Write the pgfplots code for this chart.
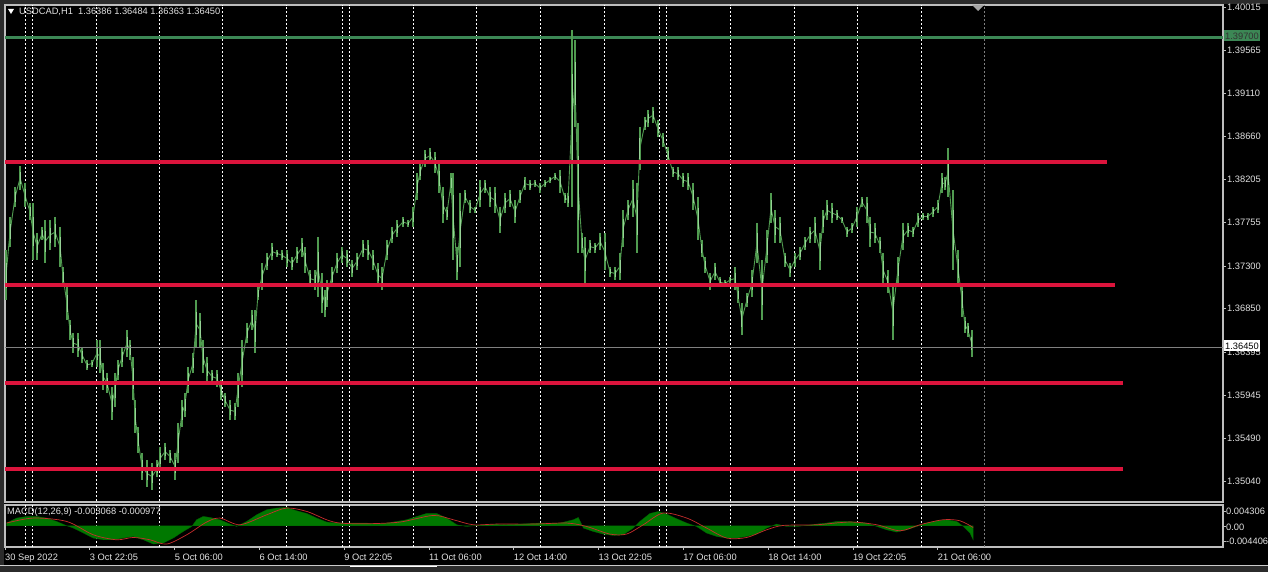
\documentclass[border=0pt]{standalone}
\usepackage{fontspec}
\setmainfont{Liberation Sans}
\usepackage{pgfplots}
\usepackage{pgfplotstable}
\pgfplotsset{compat=1.18}

\definecolor{frame}{RGB}{43,43,43}
\definecolor{axgrey}{RGB}{190,190,190}
\definecolor{txt}{RGB}{225,225,225}
\definecolor{candle}{RGB}{80,155,80}
\definecolor{candlelt}{RGB}{150,210,150}
\definecolor{level}{RGB}{220,20,60}
\definecolor{resist}{RGB}{60,135,85}
\definecolor{macdg}{RGB}{0,120,0}
\definecolor{sig}{RGB}{200,45,45}
\newcommand\mtf{\fontsize{9.3}{10}\selectfont}

% H1 candles, hours since 30 Sep 2022: high / low
\pgfplotstableread{
t h l
0.4 1.37467 1.36942
1.9 1.37814 1.37499
3.8 1.38129 1.37919
5.7 1.38349 1.38097
7.5 1.38171 1.37919
9.4 1.37961 1.37782
10.6 1.37961 1.37362
12.1 1.37646 1.37362
14.0 1.37709 1.37572
15.1 1.37782 1.37331
17.0 1.37782 1.37467
18.9 1.37814 1.37499
20.8 1.37709 1.37289
21.9 1.37289 1.37079
23.4 1.37079 1.36732
24.5 1.36732 1.36522
25.7 1.36596 1.36386
27.6 1.36596 1.36344
29.1 1.36449 1.36281
30.9 1.36312 1.36207
32.8 1.36312 1.36239
34.7 1.36522 1.36239
35.9 1.36522 1.36176
37.0 1.36281 1.35997
38.5 1.36176 1.35966
40.4 1.36029 1.35682
41.5 1.36176 1.35819
42.6 1.36312 1.36102
44.2 1.36449 1.36239
46.0 1.36627 1.36344
47.2 1.36522 1.36312
48.3 1.36344 1.35892
49.1 1.35892 1.35546
50.2 1.35609 1.35336
51.7 1.35336 1.35052
53.6 1.35262 1.34979
55.5 1.35231 1.34947
57.4 1.35262 1.35084
58.5 1.35399 1.35157
60.4 1.35441 1.35262
62.3 1.35367 1.35231
64.2 1.35336 1.35052
65.3 1.35651 1.35231
66.8 1.35892 1.35609
67.9 1.35966 1.35714
69.1 1.36239 1.35966
71.0 1.36386 1.36176
72.1 1.36942 1.36449
73.6 1.36806 1.36449
74.7 1.36522 1.36176
76.2 1.36344 1.36071
78.1 1.36207 1.36071
80.0 1.36207 1.36029
81.5 1.36102 1.35892
83.0 1.35966 1.35819
84.9 1.35892 1.35682
86.8 1.35861 1.35682
87.9 1.36176 1.35819
89.4 1.36522 1.36029
91.3 1.36701 1.36491
93.2 1.36837 1.36627
94.4 1.36837 1.36386
95.5 1.37079 1.36942
97.0 1.37331 1.37047
98.9 1.37436 1.37257
100.8 1.37541 1.37362
102.7 1.37467 1.37394
104.5 1.37467 1.37362
106.4 1.37467 1.37289
108.3 1.37394 1.37257
110.2 1.37499 1.37331
112.1 1.37593 1.37394
113.2 1.37499 1.37227
115.1 1.37257 1.37079
117.0 1.37257 1.37047
118.1 1.37604 1.36974
119.6 1.37227 1.36806
120.8 1.37047 1.36764
121.5 1.37152 1.36869
123.4 1.37289 1.37079
125.3 1.37436 1.37227
127.2 1.37499 1.37331
129.1 1.37467 1.37289
131.0 1.37362 1.37184
132.8 1.37436 1.37257
135.1 1.37572 1.37394
137.0 1.37572 1.37362
138.9 1.37467 1.37257
140.8 1.37331 1.37079
142.3 1.37289 1.37047
144.2 1.37572 1.37362
146.1 1.37709 1.37541
147.9 1.37782 1.37604
150.2 1.37814 1.37709
152.1 1.37782 1.37709
154.0 1.37919 1.37709
155.5 1.38276 1.37992
156.7 1.38380 1.38202
158.5 1.38517 1.38339
160.4 1.38538 1.38380
162.3 1.38496 1.38276
163.8 1.38380 1.38066
165.3 1.38129 1.37751
166.8 1.37919 1.37782
168.3 1.38276 1.38066
169.1 1.38276 1.37362
170.6 1.37499 1.37152
171.8 1.38066 1.37289
173.6 1.38097 1.37961
175.5 1.37992 1.37856
177.4 1.37919 1.37856
179.3 1.38202 1.37919
181.2 1.38202 1.38066
183.0 1.38129 1.37919
184.9 1.38129 1.37856
186.8 1.37919 1.37646
188.7 1.38066 1.37856
190.6 1.38097 1.37919
192.5 1.37992 1.37751
194.4 1.38097 1.37961
196.2 1.38234 1.38097
198.1 1.38202 1.38097
200.0 1.38202 1.38129
201.9 1.38171 1.38066
203.8 1.38202 1.38129
205.7 1.38234 1.38171
207.6 1.38276 1.38202
209.5 1.38307 1.38066
211.3 1.38066 1.37961
212.5 1.38066 1.37919
214.0 1.39777 1.37919
215.1 1.39672 1.38758
216.3 1.38800 1.37436
217.8 1.37646 1.37436
218.9 1.37604 1.37121
220.8 1.37572 1.37436
222.7 1.37541 1.37436
224.6 1.37646 1.37467
226.4 1.37646 1.37257
228.3 1.37289 1.37184
230.2 1.37289 1.37152
232.1 1.37436 1.37152
233.3 1.37887 1.37499
235.1 1.37992 1.37782
237.0 1.38202 1.37814
238.5 1.38171 1.37436
239.6 1.38758 1.38307
241.5 1.38863 1.38727
242.7 1.38937 1.38758
244.6 1.38968 1.38800
246.4 1.38832 1.38653
248.3 1.38695 1.38549
250.2 1.38549 1.38380
252.1 1.38339 1.38234
254.0 1.38339 1.38202
255.9 1.38276 1.38129
257.8 1.38276 1.38097
259.7 1.38171 1.37887
261.5 1.38024 1.37572
263.0 1.37572 1.37394
264.2 1.37394 1.37227
266.1 1.37227 1.37047
268.0 1.37331 1.37152
269.8 1.37184 1.37079
271.7 1.37152 1.37079
273.6 1.37184 1.37121
275.5 1.37289 1.37047
276.6 1.37079 1.36911
278.1 1.36911 1.36575
280.0 1.37016 1.36869
281.9 1.37257 1.36974
283.8 1.37751 1.37331
285.7 1.37362 1.36732
287.6 1.37677 1.37331
289.1 1.38066 1.37751
290.6 1.37887 1.37541
292.5 1.37814 1.37541
294.4 1.37436 1.37289
296.3 1.37331 1.37184
298.1 1.37436 1.37289
300.0 1.37499 1.37362
301.9 1.37604 1.37467
303.8 1.37709 1.37541
305.7 1.37814 1.37541
307.6 1.37646 1.37257
308.7 1.37887 1.37646
310.2 1.37992 1.37782
312.1 1.37961 1.37751
314.0 1.37887 1.37782
315.9 1.37814 1.37751
317.8 1.37709 1.37604
319.7 1.37751 1.37646
321.5 1.37919 1.37709
323.4 1.38024 1.37919
325.3 1.38024 1.37751
326.5 1.37814 1.37499
328.3 1.37751 1.37541
330.2 1.37604 1.37436
331.4 1.37436 1.37079
333.2 1.37257 1.37016
335.1 1.37121 1.36522
337.0 1.37394 1.37121
338.9 1.37751 1.37467
340.8 1.37751 1.37604
342.7 1.37709 1.37604
344.6 1.37856 1.37709
346.5 1.37856 1.37782
348.3 1.37856 1.37782
350.2 1.37919 1.37814
352.1 1.37992 1.37856
353.6 1.38276 1.38066
354.8 1.38234 1.38097
355.9 1.38538 1.38024
357.8 1.38097 1.37257
359.7 1.37467 1.37079
361.2 1.37121 1.36764
362.3 1.36764 1.36596
363.4 1.36701 1.36554
364.9 1.36627 1.36344
}\candles

% MACD(12,26,9) histogram and signal
\pgfplotstableread{
t v
0.6 0.00059
4.4 0.00168
8.2 0.00203
12.0 0.00203
15.7 0.00168
19.5 0.00094
23.3 0
25.8 -0.00050
29.6 -0.00159
33.3 -0.00268
37.1 -0.00305
40.9 -0.00305
44.7 -0.00268
48.4 -0.00233
52.2 -0.00305
56.0 -0.00399
59.7 -0.00377
63.5 -0.00268
67.3 -0.00124
70.5 -0.00015
72.3 0.00131
74.8 0.00203
77.4 0.00181
81.1 0.00131
84.9 0.00037
87.4 -0.00015
91.2 0.00094
95.0 0.00240
98.8 0.00349
102.5 0.00386
106.3 0.00399
110.1 0.00327
113.9 0.00268
117.6 0.00168
121.4 0.00081
125.2 0.00059
129.0 0.00059
132.7 0.00059
136.5 0.00059
140.3 0.00037
144.1 0.00059
147.8 0.00094
151.6 0.00131
155.4 0.00203
159.1 0.00268
162.9 0.00268
166.7 0.00168
170.5 0.00022
174.2 -0.00015
178.0 0.00007
181.8 0.00022
185.6 0.00037
186.8 0.00022
194.4 0.00037
201.9 0.00059
209.5 0.00059
214.5 0.00131
216.4 0.00181
218.3 -0.00050
222.0 -0.00124
225.8 -0.00181
229.6 -0.00211
233.3 -0.00196
237.1 -0.00050
239.6 0.00094
243.4 0.00268
246.6 0.00312
249.7 0.00255
253.5 0.00153
257.3 0.00059
261.0 -0.00015
264.8 -0.00159
268.6 -0.00233
272.4 -0.00268
276.1 -0.00268
279.9 -0.00233
283.7 -0.00181
287.5 -0.00050
291.2 0.00037
295.0 -0.00015
298.8 -0.00015
302.6 0.00007
306.3 0.00037
310.1 0.00059
313.9 0.00094
317.7 0.00094
321.4 0.00081
325.2 0.00059
329.0 -0.00015
332.7 -0.00087
336.5 -0.00137
340.3 -0.00087
344.1 -0.00015
347.8 0.00059
351.6 0.00109
355.4 0.00131
359.2 0.00094
361.7 -0.00015
364.2 -0.00159
365.4 -0.00305
}\macdhist

\pgfplotstableread{
t v
0.6 0.00059
10.7 0.00168
23.3 0.00094
33.3 -0.00196
42.1 -0.00305
48.4 -0.00255
54.7 -0.00305
61.0 -0.00399
68.6 -0.00196
76.1 0.00081
81.1 0.00168
88.7 0.00022
98.8 0.00240
106.3 0.00386
113.9 0.00312
121.4 0.00131
126.4 0.00059
136.5 0.00044
149.1 0.00081
161.6 0.00225
169.2 0.00131
176.7 0.00022
185.6 0.00037
199.4 0.00037
212.0 0.00059
219.5 -0.00015
228.3 -0.00181
234.6 -0.00181
240.9 0.00022
248.4 0.00277
257.3 0.00168
264.8 -0.00050
272.4 -0.00268
279.9 -0.00255
287.5 -0.00087
293.7 0.00007
306.3 0.00022
318.9 0.00081
329.0 0.00022
337.8 -0.00109
345.3 0.00022
354.1 0.00131
360.4 0.00109
365.4 -0.00037
}\macdsig

\begin{document}
\begin{tikzpicture}[x=1pt,y=1pt]
\useasboundingbox (0,0) rectangle (1268,572);
\fill[frame] (0,0) rectangle (1268,572);
\fill[black] (4,7) rectangle (1268,568);
\draw[axgrey!80, line width=1pt] (0,6.5) -- (1268,6.5);
\draw[white, line width=1.5pt] (350,5.5) -- (437,5.5);

% main price window
\begin{axis}[
  at={(5pt,70pt)}, anchor=south west,
  scale only axis, width=1218pt, height=497pt,
  xmin=0, xmax=459.7, ymin=1.34821, ymax=1.40040,
  axis background/.style={fill=black},
  axis line style={axgrey, line width=1.2pt},
  xtick=\empty,
  ytick={1.35040,1.35490,1.35945,1.36395,1.36850,1.37300,1.37755,1.38205,1.38660,1.39110,1.39565,1.40015},
  ytick pos=right, yticklabel pos=right,
  tick align=outside, major tick length=3pt,
  tick style={axgrey, line width=0.6pt},
  scaled y ticks=false,
  yticklabel style={/pgf/number format/.cd, fixed, fixed zerofill, precision=5,
    assume math mode=true, /tikz/.cd, font=\mtf, text=txt, anchor=west, inner sep=1pt},
]
\pgfplotsinvokeforeach{7.5,10.2,34.3,58.1,81.9,106.0,127.2,129.8,154.0,177.8,201.9,226.1,246.8,249.5,273.6,297.8,321.5,345.7}{
  \draw[white, line width=0.6pt, dash pattern=on 2pt off 2pt] (axis cs:#1,1.3483) -- (axis cs:#1,1.4004);}
\draw[gray, line width=0.6pt, dash pattern=on 2pt off 2pt] (axis cs:369.5,1.3483) -- (axis cs:369.5,1.4004);
\addplot[resist, line width=2.5pt] coordinates {(0,1.3970) (459.7,1.3970)};
% bar ranges, a thin path through their middles, and light bodies
\addplot[candle, line width=0.9pt, mark=none]
  table[x=t, y expr=(\thisrow{h}+\thisrow{l})/2] {\candles};
\addplot[candle, line width=1.9pt, mark=none, quiver={u=0, v=\thisrow{l}-\thisrow{h}}]
  table[x=t, y=h] {\candles};
\addplot[candlelt, line width=0.7pt, mark=none, quiver={u=0, v=0.5*(\thisrow{l}-\thisrow{h})}]
  table[x=t, y expr=0.75*\thisrow{h}+0.25*\thisrow{l}] {\candles};
\addplot[level, line width=4pt] coordinates {(0,1.3839) (415.9,1.3839)};
\addplot[level, line width=4pt] coordinates {(0,1.3710) (418.9,1.3710)};
\addplot[level, line width=4pt] coordinates {(0,1.3607) (421.9,1.3607)};
\addplot[level, line width=4pt] coordinates {(0,1.3517) (421.9,1.3517)};
\addplot[gray, line width=0.5pt] coordinates {(0,1.3645) (459.7,1.3645)};
\end{axis}

% MACD window
\begin{axis}[
  at={(5pt,25pt)}, anchor=south west,
  scale only axis, width=1218pt, height=42pt,
  xmin=0, xmax=459.7, ymin=-0.004624, ymax=0.004524,
  axis background/.style={fill=black},
  axis line style={axgrey, line width=1.2pt},
  ytick=\empty,
  xtick={0,32,64,96,128,160,192,224,256,288,320,352},
  xticklabels={30 Sep 2022,3 Oct 22:05,5 Oct 06:00,6 Oct 14:00,9 Oct 22:05,11 Oct 06:00,12 Oct 14:00,13 Oct 22:05,17 Oct 06:00,18 Oct 14:00,19 Oct 22:05,21 Oct 06:00},
  xtick pos=bottom, tick align=outside, major tick length=3pt,
  tick style={axgrey, line width=0.6pt},
  xticklabel style={font=\mtf, text=txt, anchor=north west, inner sep=0pt, yshift=-4pt},
]
\pgfplotsinvokeforeach{7.5,10.2,34.3,58.1,81.9,106.0,127.2,129.8,154.0,177.8,201.9,226.1,246.8,249.5,273.6,297.8,321.5,345.7}{
  \draw[white, line width=0.6pt, dash pattern=on 2pt off 2pt] (axis cs:#1,-0.0047) -- (axis cs:#1,0.0046);}
\draw[gray, line width=0.6pt, dash pattern=on 2pt off 2pt] (axis cs:369.5,-0.0047) -- (axis cs:369.5,0.0046);
\addplot[fill=macdg, draw=macdg!80!black, line width=0.3pt] table[x=t, y=v] {\macdhist} \closedcycle;
\addplot[sig, line width=0.7pt, smooth] table[x=t, y=v] {\macdsig};
\end{axis}

% chart texts and price markers
\fill[white] (8,563) -- (14,563) -- (11,558) -- cycle;
\node[anchor=west, font=\mtf, text=txt, inner sep=0pt] at (19,560) {USDCAD,H1\ \ 1.36386 1.36484 1.36363 1.36450};
\node[anchor=west, font=\mtf, text=txt, inner sep=0pt] at (7,60) {MACD(12,26,9) -0.003068 -0.000977};
\fill[gray!70] (972,567) -- (984,567) -- (978,561) -- cycle;
\node[anchor=west, font=\mtf, fill=resist, text=black!80, inner sep=1pt, minimum height=11pt] at (1224,536) {1.39700};
\node[anchor=west, font=\mtf, fill=white, text=black, inner sep=1pt, minimum height=11pt] at (1224,226) {1.36450};
\draw[axgrey, line width=0.6pt] (1223,61) -- (1226,61) (1223,46) -- (1226,46) (1223,31) -- (1226,31);
\node[anchor=west, font=\mtf, text=txt, inner sep=1pt] at (1225,61) {0.004306};
\node[anchor=west, font=\mtf, text=txt, inner sep=1pt] at (1225,45) {0.00};
\node[anchor=west, font=\mtf, text=txt, inner sep=1pt] at (1225,31) {-0.004406};
\end{tikzpicture}
\end{document}
